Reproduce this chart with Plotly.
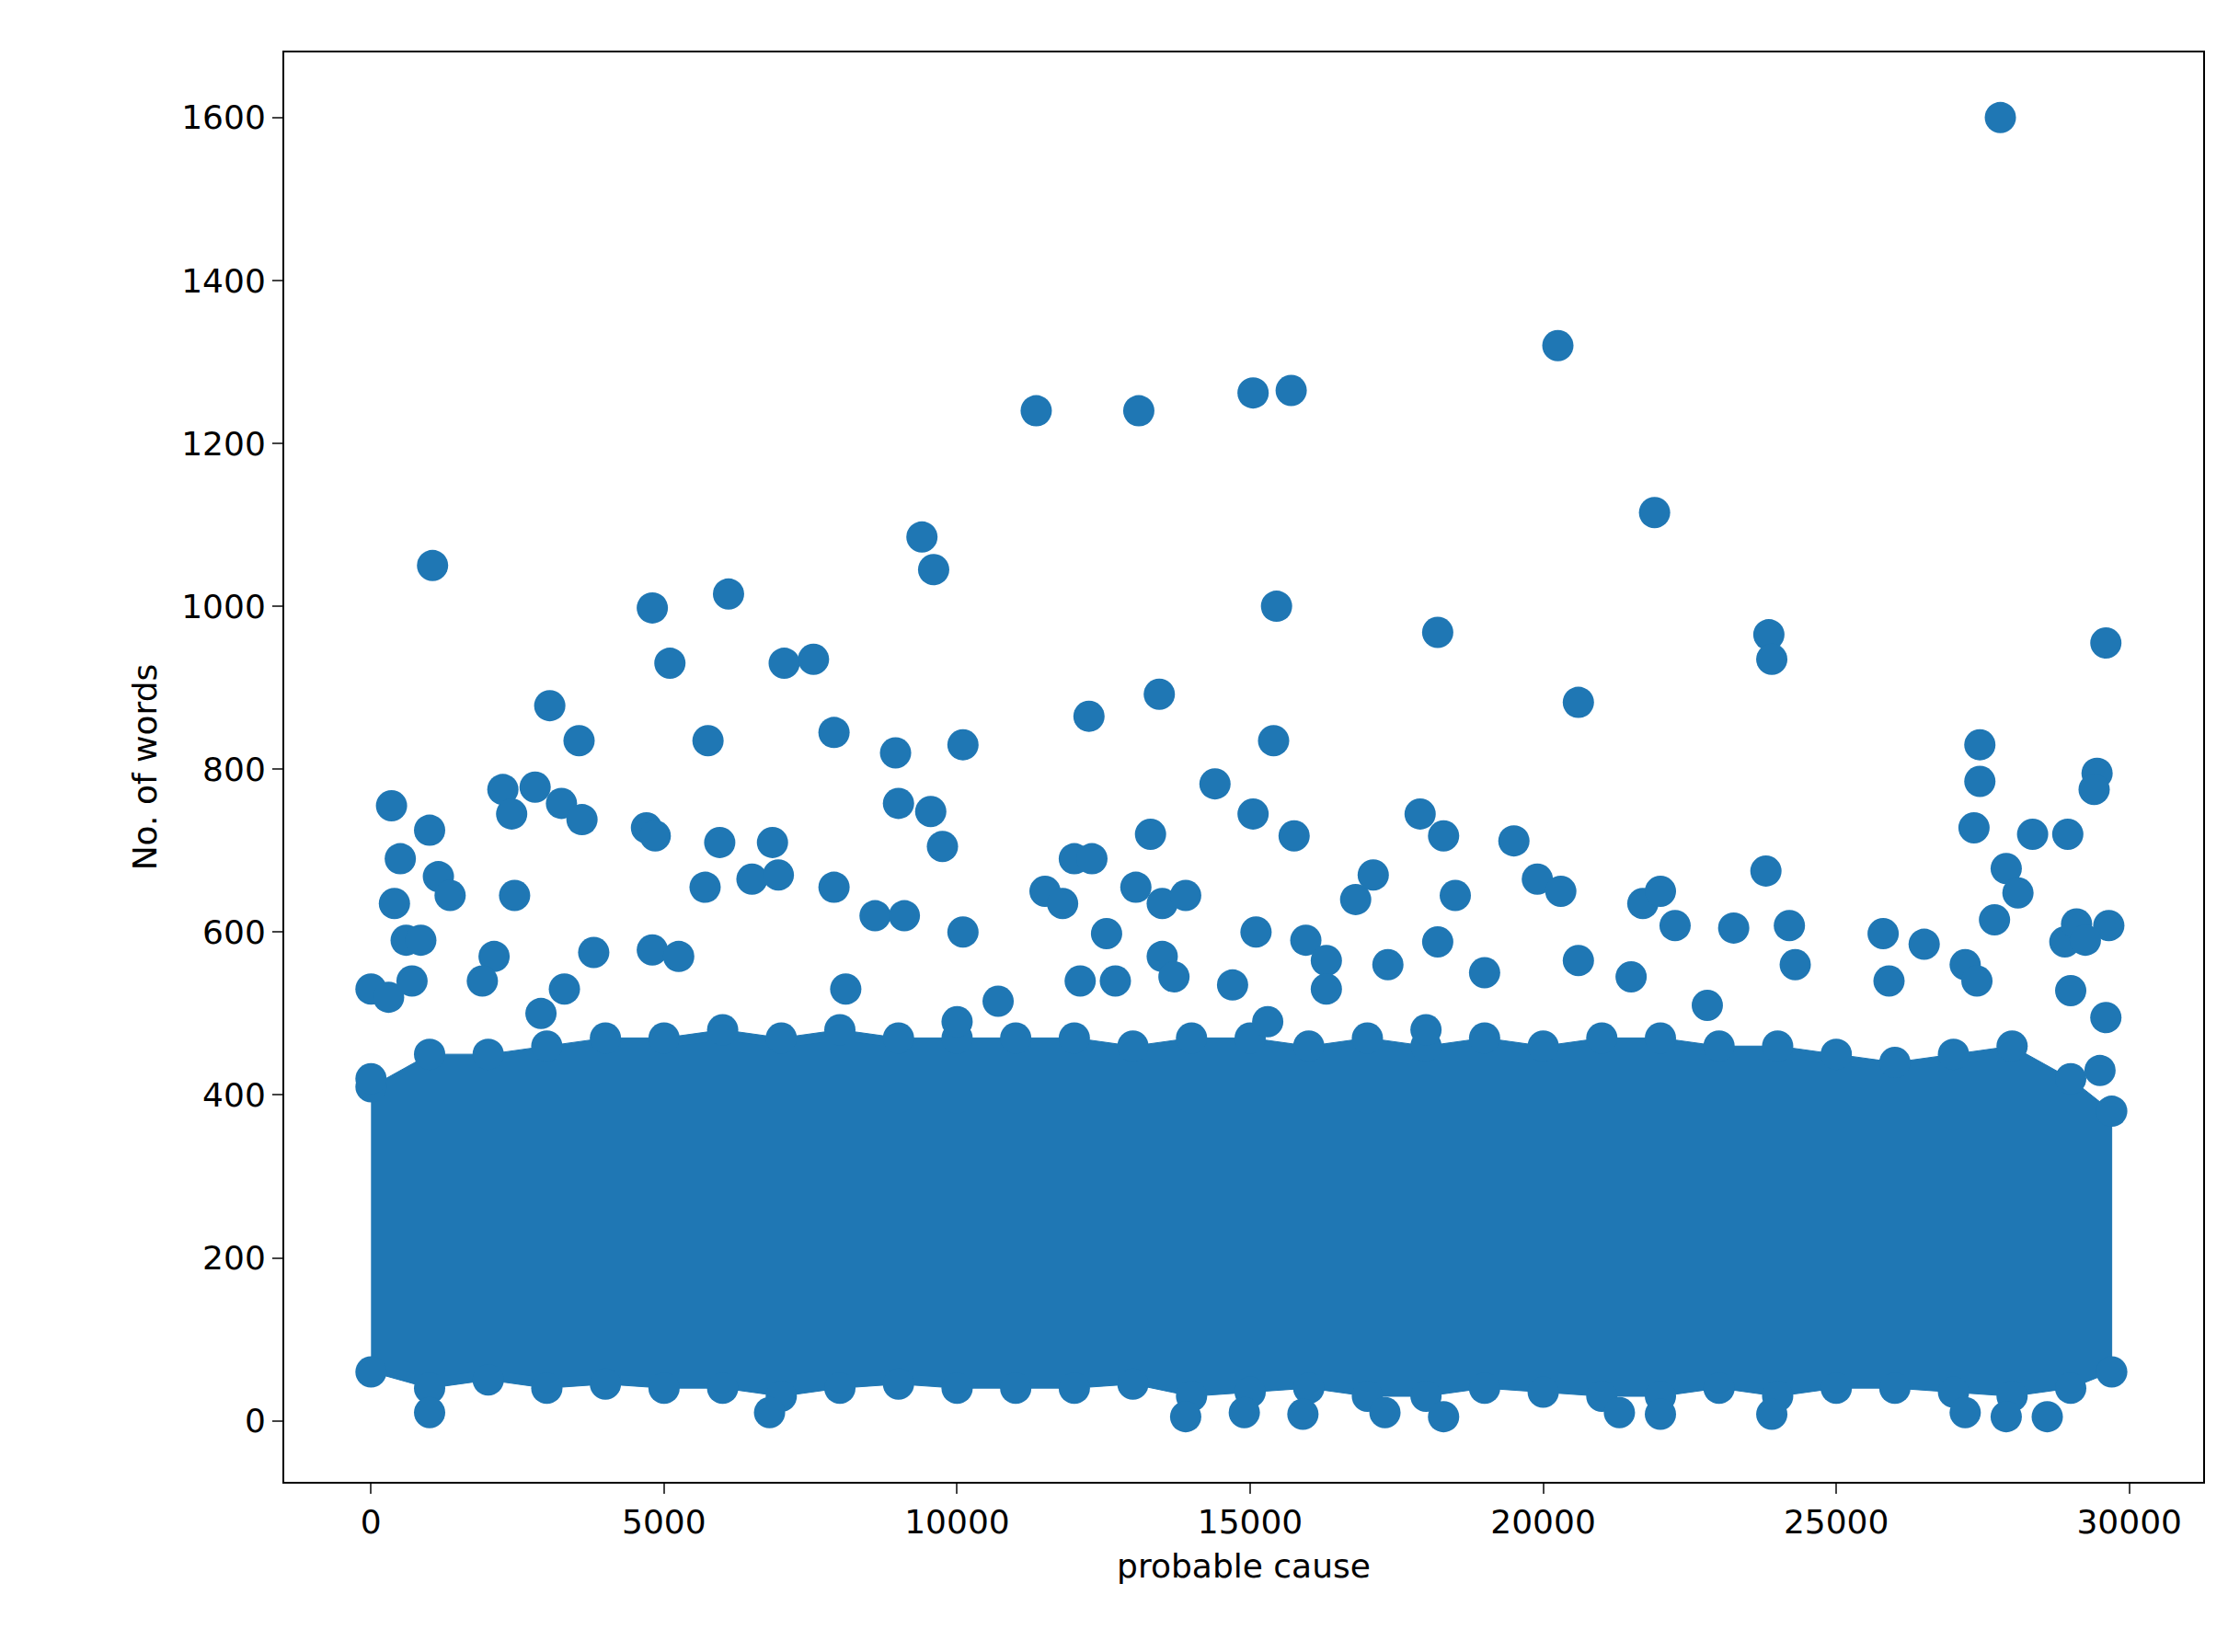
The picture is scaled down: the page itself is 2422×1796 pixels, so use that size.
import plotly.graph_objects as go

# dense core of the cloud: outline (upper and lower edges)
core_x = [0, 1000, 2000, 3000, 4000, 5000, 6000, 7000, 8000, 9000, 10000, 11000,
          12000, 13000, 14000, 15000, 16000, 17000, 18000, 19000, 20000, 21000,
          22000, 23000, 24000, 25000, 26000, 27000, 28000, 29000, 29700]
core_top = [410, 450, 450, 460, 470, 470, 480, 470, 480, 470, 470, 470,
            470, 460, 470, 470, 460, 470, 460, 470, 460, 470,
            470, 460, 460, 450, 440, 450, 460, 420, 380]
core_bottom = [60, 40, 50, 40, 45, 40, 40, 30, 40, 45, 40, 40,
               40, 45, 30, 35, 40, 30, 30, 40, 35, 30,
               30, 40, 30, 40, 40, 35, 30, 40, 60]

# scattered points outside the core
pts_x = [27800, 20250, 15700, 15050, 11350, 13100, 21900, 9400, 9600, 1050, 6100, 4800,
         15450, 18200, 23850, 23900, 29600, 5100, 7050, 7550, 20600, 13450, 3050, 12250,
         7900, 3550, 5750, 15400, 10100, 8950, 27450, 27450, 29450, 29400, 14400, 350,
         2250, 2800, 2400, 3250, 3600, 9000, 9550, 15050, 17900, 1000, 4700, 4850, 5950,
         6850, 9750, 13300, 15750, 18300, 19500, 27350, 28350, 28950, 500, 1150, 1350,
         400, 2450, 5700, 6500, 6950, 7900, 11500, 11800, 12000, 12300, 13050, 13500,
         13900, 16800, 17100, 18500, 19900, 20300, 21700, 22000, 23800, 27900, 28100,
         28900, 27700, 600, 850, 2100, 3800, 4800, 5250, 8600, 9100, 10100, 12550, 13500,
         15100, 15950, 16300, 17350, 18200, 20600, 22250, 23250, 24200, 25800, 26500,
         27200, 29650, 29100, 29250, 0, 300, 700, 1900, 2900, 3300, 8100, 10700, 12100,
         12700, 13700, 14700, 16300, 19000, 21500, 22800, 24300, 25900, 27400, 29000,
         29600, 29500, 0, 15300, 18000, 10000,
         1000, 6800, 13900, 14900, 15900, 17300, 18300, 21300, 22000, 23900, 27200,
         27900, 28600]
pts_y = [1600, 1320, 1265, 1262, 1240, 1240, 1115, 1085, 1045, 1050, 1015, 998,
         1000, 968, 965, 935, 955, 930, 930, 935, 882, 892, 878, 865,
         845, 835, 835, 835, 830, 820, 830, 785, 795, 775, 782, 755,
         775, 778, 745, 758, 738, 758, 748, 745, 745, 725, 728, 718, 710,
         710, 705, 720, 718, 718, 712, 728, 720, 720, 690, 668, 645,
         635, 645, 655, 665, 670, 655, 650, 635, 690, 690, 655, 635,
         645, 640, 670, 645, 665, 650, 635, 650, 675, 678, 648,
         588, 615, 590, 590, 570, 575, 578, 570, 620, 620, 600, 598, 570,
         600, 590, 565, 560, 588, 565, 608, 605, 608, 598, 585,
         560, 608, 610, 590, 530, 520, 540, 540, 500, 530, 530, 515, 540,
         540, 545, 535, 530, 550, 545, 510, 560, 540, 540, 528,
         495, 430, 420, 490, 480, 490,
         10, 10, 5, 10, 8, 10, 5, 10, 8, 8, 10,
         5, 5]

BLUE = "#1f77b4"
FONT = dict(family="DejaVu Sans, Arial, sans-serif", size=36, color="#000000")

poly_x = core_x + core_x[::-1]
poly_y = core_top + core_bottom[::-1]

fig = go.Figure()
fig.add_trace(go.Scatter(x=poly_x, y=poly_y, mode="lines+markers", fill="toself",
                         fillcolor=BLUE, line=dict(color=BLUE, width=1),
                         marker=dict(color=BLUE, size=34), showlegend=False,
                         hoverinfo="skip"))
fig.add_trace(go.Scatter(x=pts_x, y=pts_y, mode="markers",
                         marker=dict(color=BLUE, size=34, line=dict(width=0)),
                         showlegend=False))

axis = dict(showgrid=False, zeroline=False, showline=True, linecolor="black",
            linewidth=2, mirror=True, ticks="outside", ticklen=11, tickwidth=2,
            tickfont=FONT)
fig.update_xaxes(**axis, range=[-1480, 31260], tickformat="d",
                 tickvals=[0, 5000, 10000, 15000, 20000, 25000, 30000],
                 title=dict(text="probable cause", font=FONT, standoff=16))
fig.update_yaxes(**axis, range=[-75, 1680], tickformat="d",
                 tickvals=[0, 200, 400, 600, 800, 1000, 1200, 1400, 1600],
                 title=dict(text="No. of words", font=FONT, standoff=16))
fig.update_layout(width=2422, height=1796, plot_bgcolor="white", paper_bgcolor="white",
                  font=FONT, margin=dict(l=301, r=35, t=49, b=193))
fig.write_html("out.html")
